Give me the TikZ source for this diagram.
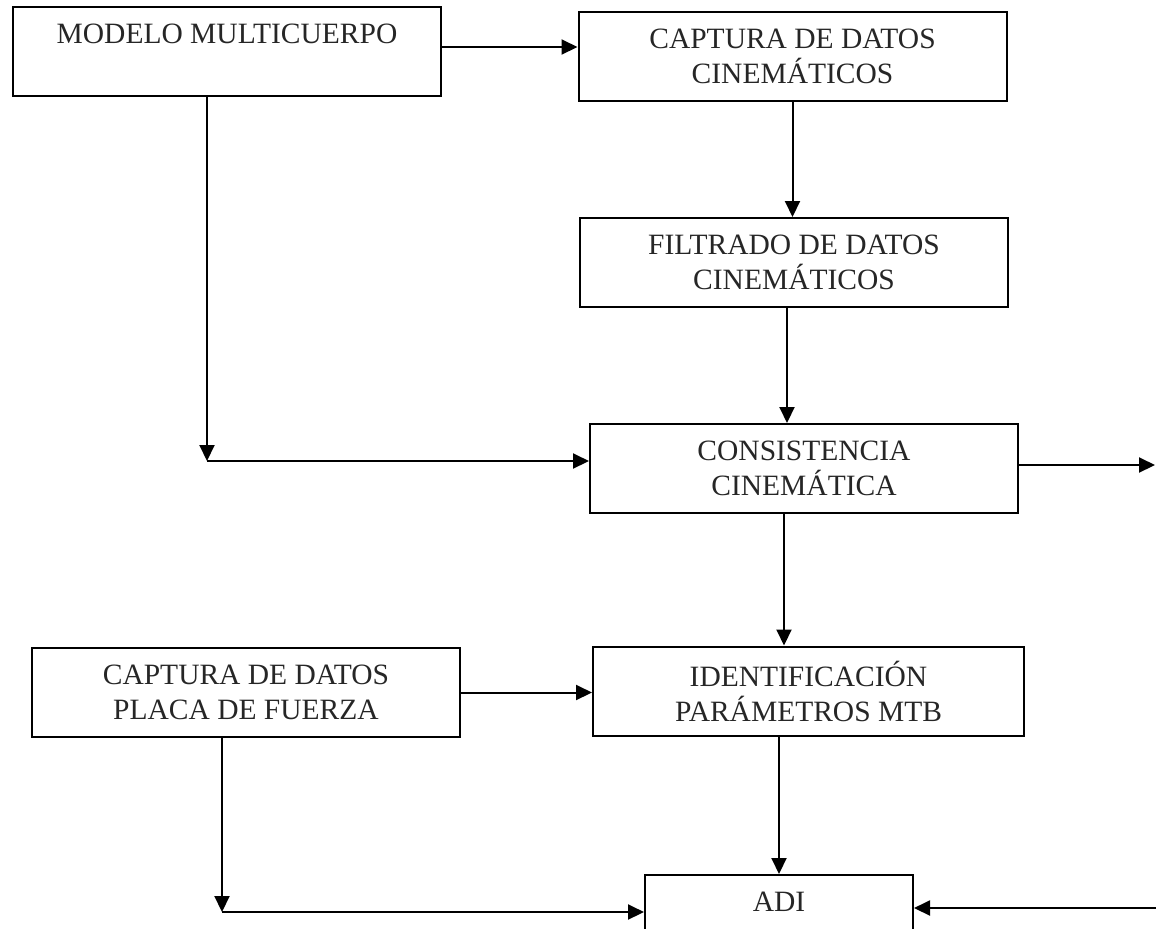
\documentclass[tikz,border=0pt]{standalone}
\usepackage{fontspec}
\setmainfont{Liberation Serif}
\usetikzlibrary{arrows.meta}

\begin{document}
\begin{tikzpicture}[
    x=0.5pt, y=-0.5pt,
    box/.style={draw, line width=1pt, minimum width=214pt, minimum height=44.5pt, inner sep=0pt, align=center, text=black!85, font=\fontsize{14.75}{17.5}\selectfont},
    arr/.style={-{Triangle[length=8pt,width=7.5pt]}, line width=1pt}
]
\useasboundingbox (0,0) rectangle (1156,928);
\clip (0,0) rectangle (1156,928);

\node[box] (modelo) at (227,51.5) {MODELO MULTICUERPO\\\mbox{}};
\node[box] (captura) at (792.5,56) {CAPTURA DE DATOS\\CINEMÁTICOS};
\node[box] (filtrado) at (794,262.5) {FILTRADO DE DATOS\\CINEMÁTICOS};
\node[box] (consist) at (804,468.5) {CONSISTENCIA\\CINEMÁTICA};
\node[box] (placa) at (246,692.5) {CAPTURA DE DATOS\\PLACA DE FUERZA};
\node[box, minimum width=215.5pt] (ident) at (808.5,691) {IDENTIFICACIÓN\\PARÁMETROS MTB};
\node[box, minimum width=134pt] (adi) at (779,919.5) {ADI\\\mbox{}};

\coordinate (j1) at (207,461);
\coordinate (j2) at (222,912);
\coordinate (outr) at (1155,465);
\coordinate (inr) at (1156,908);

\draw[arr] ([yshift=2.25pt]modelo.east) -- ([yshift=2.25pt]modelo.east -| captura.west);
\draw[arr] (captura) -- (captura |- filtrado.north);
\draw[arr] ([xshift=-3.5pt]filtrado.south) -- ([xshift=-3.5pt]filtrado.south |- consist.north);
\draw[arr] (j1 |- modelo.south) -- (j1);
\draw[arr] (j1) -- (j1 -| consist.west);
\draw[arr] (consist.east |- outr) -- (outr);
\draw[arr] ([xshift=-10pt]consist.south) -- ([xshift=-10pt]consist.south |- ident.north);
\draw[arr] (placa.east) -- (placa.east -| ident.west);
\draw[arr] (j2 |- placa.south) -- (j2);
\draw[arr] (j2) -- (j2 -| adi.west);
\draw[arr] (adi |- ident.south) -- (adi.north);
\draw[arr] (inr) -- (adi.east |- inr);
\end{tikzpicture}
\end{document}
